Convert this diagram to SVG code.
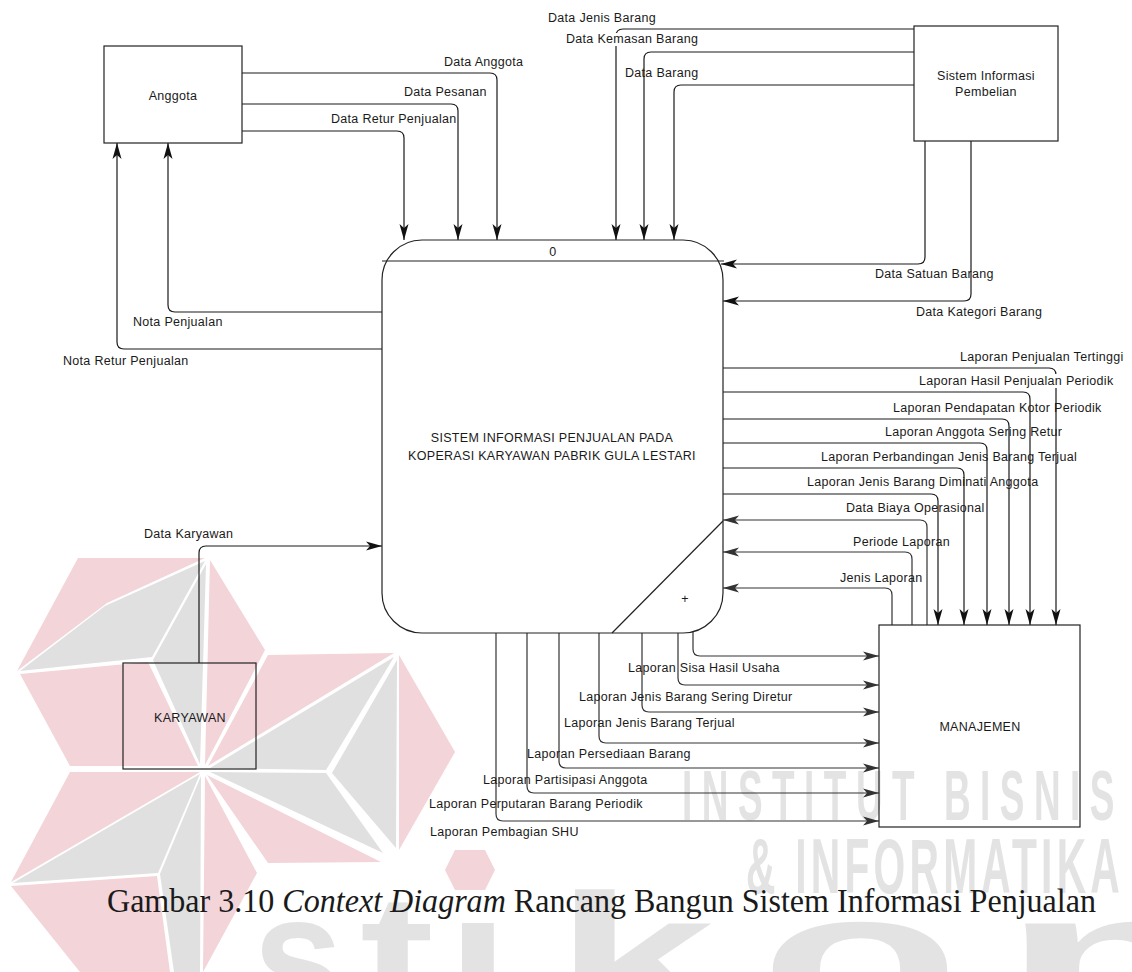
<svg xmlns="http://www.w3.org/2000/svg" width="1132" height="972" viewBox="0 0 1132 972">
  <style>
    .box { fill: none; stroke: #222; stroke-width: 1.2; }
    .flow { fill: none; stroke: #1a1a1a; stroke-width: 1.2; marker-end: url(#ah); }
    .flowg { fill: none; stroke: #333; stroke-width: 1.2; marker-end: url(#ahg); }
    .lbl { font-family: "Liberation Sans", Arial, sans-serif; font-size: 12.5px; letter-spacing: 0.3px; fill: #1a1a1a; }
    .ctr { text-anchor: middle; }
    .pk { fill: #f2d4d9; }
    .gy { fill: #e0e0e0; }
    .wm { font-family: "Liberation Sans", Arial, sans-serif; font-weight: bold; fill: #e3e3e3; }
  </style>
  <defs>
    <marker id="ah" viewBox="0 0 16 10" refX="16" refY="5" markerWidth="16" markerHeight="10" markerUnits="userSpaceOnUse" orient="auto">
      <path d="M0,0.5 L16,5 L0,9.5 L4,5 Z" fill="#111"/>
    </marker>
    <marker id="ahg" viewBox="0 0 16 10" refX="16" refY="5" markerWidth="16" markerHeight="10" markerUnits="userSpaceOnUse" orient="auto">
      <path d="M0,0.5 L16,5 L0,9.5 L4,5 Z" fill="#333"/>
    </marker>
  </defs>

  <rect width="1132" height="972" fill="#fff"/>

  <!-- background emblem and lettering -->
  <g id="watermark">
    <polygon class="pk" points="78,558 205,558 107,603 17,671"/>
    <polygon class="gy" points="205,561 105,606 20,671 152,657"/>
    <polygon class="pk" points="20,674 148,662 198,766 70,766"/>
    <polygon class="gy" points="206,564 153,660 200,764"/>
    <polygon class="pk" points="210,560 265,650 205,765"/>
    <polygon class="pk" points="268,655 394,653 208,766"/>
    <polygon class="gy" points="394,657 210,768 326,770"/>
    <polygon class="gy" points="397,660 332,773 396,848"/>
    <polygon class="pk" points="399,655 455,752 399,850"/>
    <polygon class="gy" points="210,772 326,773 383,853"/>
    <polygon class="pk" points="207,775 381,862 268,863"/>
    <polygon class="pk" points="200,772 70,772 11,882"/>
    <polygon class="gy" points="200,774 13,883 158,873"/>
    <polygon class="pk" points="11,886 157,876 170,972 80,972"/>
    <polygon class="gy" points="201,776 160,874 174,972 200,972"/>
    <polygon class="pk" points="205,776 257,873 203,972"/>
    <text class="wm" x="682" y="820" font-size="70" letter-spacing="18" textLength="442" lengthAdjust="spacingAndGlyphs">INSTITUT BISNIS</text>
    <text class="wm" x="746" y="893" font-size="77" letter-spacing="8" textLength="378" lengthAdjust="spacingAndGlyphs">&amp; INFORMATIKA</text>
    <text class="wm" y="1016" font-size="175" fill="#dedede"><tspan x="253" textLength="90" lengthAdjust="spacingAndGlyphs">s</tspan><tspan x="360" textLength="74" lengthAdjust="spacingAndGlyphs">t</tspan><tspan x="446" textLength="64" lengthAdjust="spacingAndGlyphs">i</tspan><tspan x="555" textLength="160" lengthAdjust="spacingAndGlyphs">k</tspan><tspan x="760" textLength="200" lengthAdjust="spacingAndGlyphs">o</tspan><tspan x="1000" textLength="340" lengthAdjust="spacingAndGlyphs">m</tspan></text>
    <rect x="440" y="889" width="70" height="32" fill="#fff"/>
    <polygon class="pk" points="455,850 485,850 495,870 485,890 455,890 445,870"/>
  </g>

  <!-- data flows -->
  <g id="connectors">
    <path class="flow" d="M242,73 H490 Q497,73 497,80 V240"/>
    <path class="flow" d="M242,104 H451 Q458,104 458,111 V240"/>
    <path class="flow" d="M242,131 H397 Q404,131 404,138 V240"/>

    <path class="flow" d="M914,29 H623 Q616,29 616,36 V240"/>
    <path class="flow" d="M914,52 H651 Q644,52 644,59 V240"/>
    <path class="flow" d="M914,85 H681 Q674,85 674,92 V240"/>
    <path class="flow" d="M925,141 V257 Q925,264 918,264 H721"/>
    <path class="flow" d="M971,141 V294 Q971,301 964,301 H723"/>

    <path class="flow" d="M382,312 H175 Q168,312 168,305 V143"/>
    <path class="flow" d="M382,349 H124 Q117,349 117,342 V143"/>

    <path class="flow" d="M199,663 V553 Q199,546 206,546 H382"/>

    <path class="flow" d="M723,368 H1049 Q1056,368 1056,375 V625"/>
    <path class="flow" d="M723,392 H1023 Q1030,392 1030,399 V625"/>
    <path class="flow" d="M723,419 H1002 Q1009,419 1009,426 V625"/>
    <path class="flow" d="M723,443 H980 Q987,443 987,450 V625"/>
    <path class="flow" d="M723,468 H957 Q964,468 964,475 V625"/>
    <path class="flow" d="M723,494 H931 Q938,494 938,501 V625"/>
    <path class="flowg" d="M927,625 V527 Q927,520 920,520 H723"/>
    <path class="flowg" d="M912,625 V559 Q912,552 905,552 H723"/>
    <path class="flowg" d="M892,625 V595 Q892,588 885,588 H723"/>

    <path class="flowg" d="M693,632 V649 Q693,656 700,656 H879"/>
    <path class="flowg" d="M678,633 V678 Q678,685 685,685 H879"/>
    <path class="flowg" d="M642,633 V705 Q642,712 649,712 H879"/>
    <path class="flowg" d="M599,633 V736 Q599,743 606,743 H879"/>
    <path class="flowg" d="M559,633 V761 Q559,768 566,768 H879"/>
    <path class="flowg" d="M527,633 V786 Q527,793 534,793 H879"/>
    <path class="flowg" d="M496,633 V814 Q496,821 503,821 H879"/>
  </g>

  <!-- flow labels -->
  <g id="flow-labels">
    <text class="lbl" x="444" y="66">Data Anggota</text>
    <text class="lbl" x="404" y="96">Data Pesanan</text>
    <text class="lbl" x="331" y="123">Data Retur Penjualan</text>
    <text class="lbl" x="548" y="22">Data Jenis Barang</text>
    <rect x="564" y="33" width="138" height="13" fill="#fff"/>
    <text class="lbl" x="566" y="43">Data Kemasan Barang</text>
    <text class="lbl" x="625" y="77">Data Barang</text>
    <text class="lbl" x="875" y="278">Data Satuan Barang</text>
    <text class="lbl" x="916" y="316">Data Kategori Barang</text>
    <text class="lbl" x="133" y="326">Nota Penjualan</text>
    <text class="lbl" x="63" y="365">Nota Retur Penjualan</text>
    <text class="lbl" x="144" y="538">Data Karyawan</text>

    <text class="lbl" x="960" y="361">Laporan Penjualan Tertinggi</text>
    <rect x="917" y="374" width="202" height="14" fill="#fff"/>
    <text class="lbl" x="919" y="385">Laporan Hasil Penjualan Periodik</text>
    <text class="lbl" x="893" y="412">Laporan Pendapatan Kotor Periodik</text>
    <text class="lbl" x="885" y="436">Laporan Anggota Sering Retur</text>
    <text class="lbl" x="821" y="461">Laporan Perbandingan Jenis Barang Terjual</text>
    <text class="lbl" x="807" y="486">Laporan Jenis Barang Diminati Anggota</text>
    <text class="lbl" x="846" y="512">Data Biaya Operasional</text>
    <text class="lbl" x="853" y="546">Periode Laporan</text>
    <text class="lbl" x="840" y="582">Jenis Laporan</text>

    <text class="lbl" x="628" y="672">Laporan Sisa Hasil Usaha</text>
    <text class="lbl" x="579" y="701">Laporan Jenis Barang Sering Diretur</text>
    <text class="lbl" x="564" y="727">Laporan Jenis Barang Terjual</text>
    <text class="lbl" x="527" y="758">Laporan Persediaan Barang</text>
    <text class="lbl" x="483" y="784">Laporan Partisipasi Anggota</text>
    <text class="lbl" x="429" y="808">Laporan Perputaran Barang Periodik</text>
    <text class="lbl" x="430" y="836">Laporan Pembagian SHU</text>
  </g>

  <!-- external entities -->
  <g id="anggota">
    <rect class="box" x="104" y="46" width="138" height="97"/>
    <text class="lbl ctr" x="173" y="100">Anggota</text>
  </g>
  <g id="sistem-pembelian">
    <rect class="box" x="914" y="26" width="144" height="115"/>
    <text class="lbl ctr" x="986" y="80">Sistem Informasi</text>
    <text class="lbl ctr" x="986" y="96">Pembelian</text>
  </g>
  <g id="karyawan">
    <rect class="box" x="123" y="663" width="133" height="106"/>
    <text class="lbl ctr" x="190" y="722">KARYAWAN</text>
  </g>
  <g id="manajemen">
    <rect class="box" x="879" y="625" width="201" height="202"/>
    <text class="lbl ctr" x="980" y="731">MANAJEMEN</text>
  </g>

  <!-- process 0 -->
  <g id="process-0">
    <rect x="382" y="240" width="341" height="393" rx="40" ry="40" fill="#fff" stroke="#222" stroke-width="1.2"/>
    <line x1="382" y1="261" x2="724" y2="261" stroke="#222" stroke-width="1.2"/>
    <line x1="612" y1="633" x2="723" y2="521" stroke="#222" stroke-width="1.2"/>
    <text class="lbl ctr" x="553" y="256">0</text>
    <text class="lbl ctr" x="552" y="442" font-size="13" letter-spacing="0.4">SISTEM INFORMASI PENJUALAN PADA</text>
    <text class="lbl ctr" x="552" y="460" font-size="13" letter-spacing="0.4">KOPERASI KARYAWAN PABRIK GULA LESTARI</text>
    <text class="lbl ctr" x="685" y="603" font-size="16" fill="#555">+</text>
  </g>

  <!-- caption -->
  <text x="107" y="912" font-family="'Liberation Serif', 'Times New Roman', serif" font-size="33" fill="#1a1a1a" textLength="989" lengthAdjust="spacingAndGlyphs">Gambar 3.10 <tspan font-style="italic">Context Diagram</tspan> Rancang Bangun Sistem Informasi Penjualan</text>
</svg>
